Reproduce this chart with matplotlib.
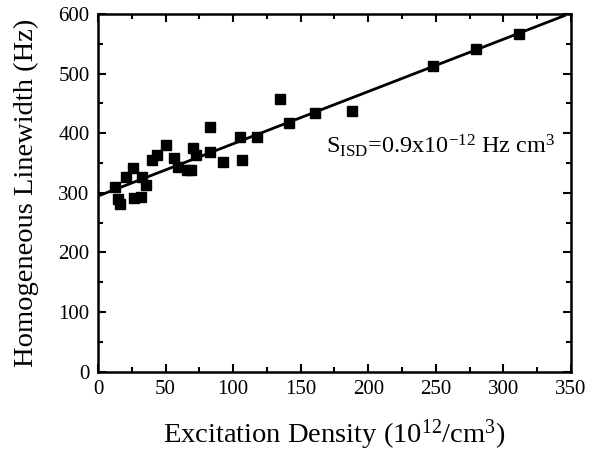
import matplotlib
matplotlib.use("Agg")
import matplotlib.pyplot as plt
import numpy as np
from matplotlib.ticker import MultipleLocator

plt.rcParams["font.family"] = ["Liberation Serif", "DejaVu Serif"]
plt.rcParams["mathtext.fontset"] = "custom"
plt.rcParams["mathtext.rm"] = "Liberation Serif"
plt.rcParams["mathtext.it"] = "Liberation Serif:italic"

# measured points: excitation density (1e12/cm^3) vs homogeneous linewidth (Hz)
density = [12.6, 15.0, 16.0, 20.7, 25.7, 26.9, 31.8, 32.3, 35.5, 40.2, 43.4,
           50.3, 56.3, 59.4, 65.7, 68.6, 70.1, 72.5, 82.9, 82.9, 92.3, 105.0,
           106.8, 117.5, 134.7, 141.6, 160.6, 187.8, 248.2, 280.0, 311.8]
linewidth = [310, 290, 281, 327, 341, 291, 293, 327, 313, 355, 363,
             380, 358, 343, 338, 339, 376, 363, 410, 369, 351, 393,
             355, 393, 457, 418, 434, 437, 513, 541, 566]

# linear fit shown on the plot
fit_intercept = 294.7
fit_slope = 0.877
fit_range = [0, 345]

fig = plt.figure(figsize=(5.89, 4.62), dpi=100)
ax = fig.add_axes([0.1664, 0.1955, 0.803, 0.774])

xf = np.array(fit_range)
ax.plot(xf, fit_intercept + fit_slope * xf, color="black", linewidth=2)
ax.plot(density, linewidth, "s", color="black", markersize=7)

ax.set_xlim(0, 350)
ax.set_ylim(0, 600)
ax.xaxis.set_major_locator(MultipleLocator(50))
ax.xaxis.set_minor_locator(MultipleLocator(25))
ax.yaxis.set_major_locator(MultipleLocator(100))
ax.yaxis.set_minor_locator(MultipleLocator(50))
ax.tick_params(which="both", direction="in", top=True, right=True,
               width=1.5, labelsize=15, colors="black")
ax.tick_params(which="major", length=6, pad=6)
ax.tick_params(which="minor", length=3.5)
for s in ax.spines.values():
    s.set_linewidth(1.8)

ax.set_xlabel(r"Excitation Density (10$^{12}$/cm$^{3}$)", fontsize=20.5, labelpad=13)
ax.set_ylabel("Homogeneous Linewidth (Hz)", fontsize=20.5, labelpad=14)

ax.text(169, 366, r"S$_{\mathrm{ISD}}$=0.9x10$^{-12}$ Hz cm$^{3}$", fontsize=17.5,
        va="baseline")

fig.savefig("out.png", dpi=100)
